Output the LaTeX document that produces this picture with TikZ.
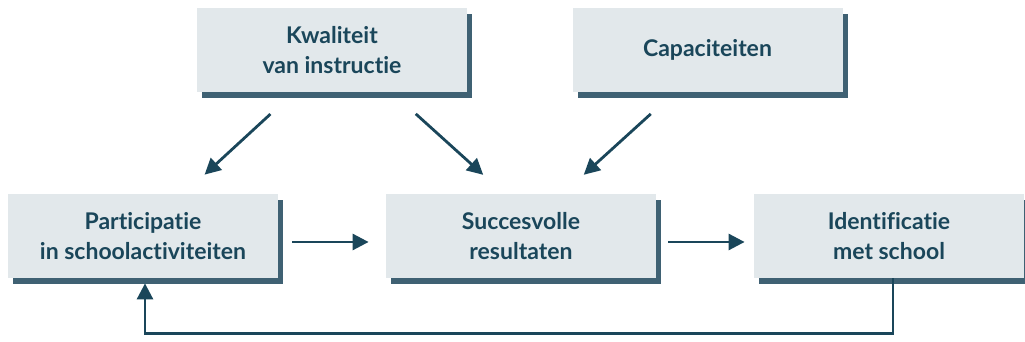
\documentclass[tikz,border=0pt]{standalone}
\usepackage{fontspec}
\setmainfont{Lato}[Ligatures=NoCommon]
\usetikzlibrary{calc,arrows.meta,shadows}
\definecolor{blokfill}{RGB}{226,232,235}
\definecolor{donker}{RGB}{26,70,90}
\definecolor{schaduw}{RGB}{42,80,100}

\tikzset{
  blok/.style={fill=blokfill, minimum width=135pt, minimum height=42pt, inner sep=0pt,
    align=center, text=donker, font=\bfseries\fontsize{11.5}{15}\selectfont,
    drop shadow={shadow xshift=2.5pt, shadow yshift=-3pt, fill=schaduw, opacity=0.9}},
  pijl/.style={draw=donker, line width=1.4pt, -{Triangle[length=8pt,width=8pt]}},
}

\begin{document}
\begin{tikzpicture}[x=0.5pt,y=0.5pt]
\useasboundingbox (0,0) rectangle (1025,342);
    % bovenste rij
    \node[blok] (kwal) at (332,292) {Kwaliteit\\van instructie};
    \node[blok] (cap) at (707.5,292) {Capaciteiten};
    % onderste rij
    \node[blok] (part) at (143,106) {Participatie\\in schoolactiviteiten};
    \node[blok] (succ) at (521,106) {Succesvolle\\resultaten};
    \node[blok] (ident) at (889,106) {Identificatie\\met school};

    % schuine pijlen
    \draw[pijl, shorten <=16pt, shorten >=14pt]
        ($(kwal.south)+(-38,0)$) -- ($(part.north)+(41,0)$);
    \draw[pijl, shorten <=16pt, shorten >=14pt]
        ($(kwal.south)+(60,0)$) -- ($(succ.north)+(-17,0)$);
    \draw[pijl, shorten <=16pt, shorten >=14pt]
        ($(cap.south)+(-33,0)$) -- ($(succ.north)+(42,0)$);

    % horizontale pijlen
    \draw[pijl, shorten <=7pt, shorten >=8.5pt]
        ($(part.east)+(0,-6)$) -- ($(succ.west)+(0,-6)$);
    \draw[pijl, shorten <=6pt, shorten >=4.5pt]
        ($(succ.east)+(0,-6)$) -- ($(ident.west)+(0,-6)$);

    % terugkoppeling
    \draw[pijl, shorten >=2.5pt]
        ($(ident.south)+(4,0)$) -- ++(0,-55) -| ($(part.south)+(2,0)$);
\end{tikzpicture}
\end{document}
